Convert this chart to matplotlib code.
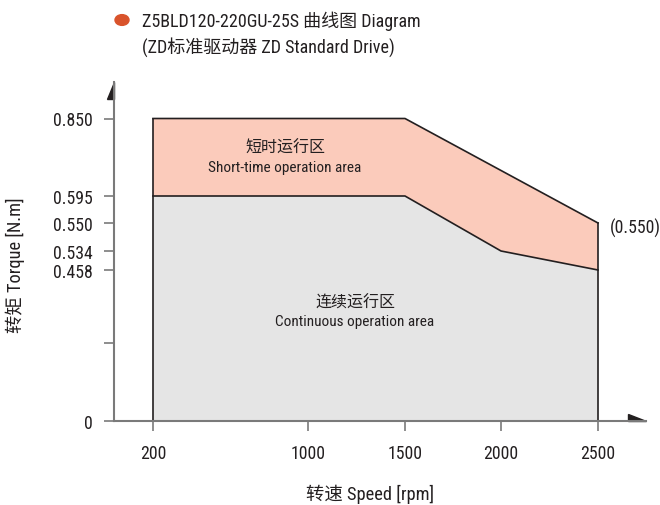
import numpy as np
import matplotlib
matplotlib.use("Agg")
from matplotlib import pyplot as plt
from matplotlib.patches import Polygon, Circle

plt.rcParams['font.family'] = ['Roboto Condensed', 'Noto Sans CJK SC', 'DejaVu Sans']

# data
cont_speed = [200, 1500, 2000, 2500]
cont_torque = [0.595, 0.595, 0.534, 0.458]
short_speed = [200, 1500, 2500]
short_torque = [0.850, 0.850, 0.550]
x_ticks = [200, 1000, 1500, 2000, 2500]
y_ticks = [0, 0.229, 0.458, 0.534, 0.550, 0.595, 0.850]
y_labels = ['0', '', '0.458', '0.534', '0.550', '0.595', '0.850']

# the chart spaces ticks unevenly, so use piecewise scales
x_anchor = [0, 200, 1000, 1500, 2000, 2500, 2750]
x_pix = [0, 39, 194, 291, 387, 484, 532]
y_anchor = [0, 0.229, 0.458, 0.534, 0.550, 0.595, 0.850, 0.95]
y_pix = [0, 78, 151, 170, 198, 225, 302.5, 339]

def fx(v):
    return np.interp(v, x_anchor, x_pix)

def ifx(v):
    return np.interp(v, x_pix, x_anchor)

def fy(v):
    return np.interp(v, y_anchor, y_pix)

def ify(v):
    return np.interp(v, y_pix, y_anchor)

W, H = 660, 506
fig = plt.figure(figsize=(6.6, 5.06), dpi=100)
ax = fig.add_axes([114 / W, (H - 422) / H, 532 / W, 339 / H])
ax.set_xscale('function', functions=(fx, ifx))
ax.set_yscale('function', functions=(fy, ify))
ax.set_xlim(0, 2750)
ax.set_ylim(0, 0.95)

pink = '#FBCBBB'
grey = '#E5E5E5'
edge = '#231F20'

# short-time band: top curve forward, continuous curve back
band_x = short_speed + cont_speed[::-1]
band_y = short_torque + cont_torque[::-1]
ax.fill(band_x, band_y, color=pink, lw=0)
ax.fill(cont_speed + [cont_speed[-1], cont_speed[0]], cont_torque + [0, 0], color=grey, lw=0)
ax.plot(short_speed, short_torque, color=edge, lw=1.2)
ax.plot(cont_speed, cont_torque, color=edge, lw=1.2)
ax.plot([short_speed[0], short_speed[0]], [0, short_torque[0]], color=edge, lw=1.2)
ax.plot([short_speed[-1], short_speed[-1]], [0, short_torque[-1]], color=edge, lw=1.2)

for s in ['top', 'right']:
    ax.spines[s].set_visible(False)
for s in ['left', 'bottom']:
    ax.spines[s].set_color('#7a7a7a')
    ax.spines[s].set_linewidth(1.5)

ax.set_xticks(x_ticks)
ax.set_xticklabels([str(t) for t in x_ticks])
ax.set_yticks(y_ticks)
ax.set_yticklabels(y_labels)
ax.minorticks_off()
ax.tick_params(axis='both', colors='#7a7a7a', length=7.5, width=1.2, labelsize=12.8,
               labelcolor='#231F20')
ax.tick_params(axis='x', pad=9)
ax.tick_params(axis='y', pad=8)

# half arrows at the ends of the axes
ax.add_patch(Polygon([(0, 1), (0, 1 - 17 / 339), (-7 / 532, 1 - 17 / 339)], closed=True,
                     transform=ax.transAxes, color='#231F20', clip_on=False))
ax.add_patch(Polygon([(1, 0), (1 - 18 / 532, 0), (1 - 18 / 532, 7 / 339)], closed=True,
                     transform=ax.transAxes, color='#231F20', clip_on=False))

fig.text(285 / W, 1 - 148 / H, '短时运行区', ha='center', va='center', fontsize=11.5, color=edge)
fig.text(285 / W, 1 - 168 / H, 'Short-time operation area', ha='center', va='center',
         fontsize=11, color=edge)
fig.text(355 / W, 1 - 303 / H, '连续运行区', ha='center', va='center', fontsize=11.5, color=edge)
fig.text(355 / W, 1 - 322 / H, 'Continuous operation area', ha='center', va='center',
         fontsize=11, color=edge)
fig.text(610 / W, 1 - 228 / H, '(0.550)', ha='left', va='center', fontsize=12.8, color=edge)

fig.text(370 / W, 1 - 494 / H, '转速 Speed [rpm]', ha='center', va='center', fontsize=13.2,
         color=edge)
fig.text(15 / W, 1 - 265 / H, '转矩 Torque [N.m]', ha='center', va='center', fontsize=13.2,
         rotation=90, color=edge)

fig.patches.append(Circle((122 / W, 1 - 21 / H), 7 / W, transform=fig.transFigure,
                          color='#D9532B'))
fig.text(142 / W, 1 - 21 / H, 'Z5BLD120-220GU-25S 曲线图 Diagram', ha='left', va='center',
         fontsize=13, color=edge)
fig.text(142 / W, 1 - 47 / H, '(ZD标准驱动器 ZD Standard Drive)', ha='left', va='center',
         fontsize=13, color=edge)

fig.savefig('out.png', dpi=100)
